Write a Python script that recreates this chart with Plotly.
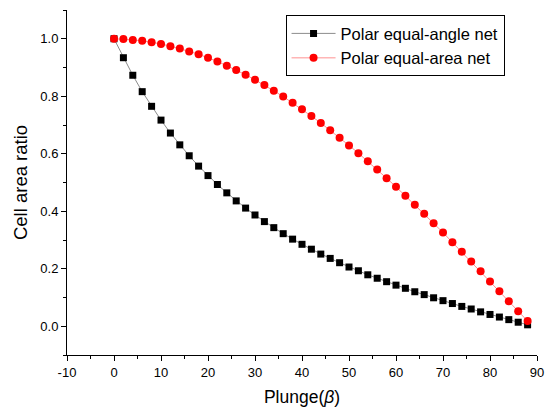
import plotly.graph_objects as go

plunge = [0, 2, 4, 6, 8, 10, 12, 14, 16, 18, 20, 22, 24, 26, 28, 30, 32, 34, 36, 38, 40,
          42, 44, 46, 48, 50, 52, 54, 56, 58, 60, 62, 64, 66, 68, 70, 72, 74, 76, 78, 80,
          82, 84, 86, 88]

equal_angle = [1.000, 0.934, 0.873, 0.816, 0.765, 0.717, 0.672, 0.631, 0.593, 0.557,
               0.524, 0.493, 0.464, 0.436, 0.411, 0.387, 0.364, 0.343, 0.322, 0.303,
               0.285, 0.268, 0.251, 0.236, 0.221, 0.206, 0.193, 0.179, 0.167, 0.155,
               0.143, 0.132, 0.120, 0.110, 0.099, 0.089, 0.079, 0.069, 0.060, 0.050,
               0.041, 0.032, 0.023, 0.014, 0.005]

equal_area = [1.000, 0.999, 0.996, 0.993, 0.988, 0.982, 0.974, 0.966, 0.956, 0.946,
              0.934, 0.921, 0.906, 0.891, 0.875, 0.857, 0.839, 0.819, 0.799, 0.777,
              0.755, 0.731, 0.707, 0.682, 0.656, 0.629, 0.602, 0.574, 0.545, 0.515,
              0.485, 0.454, 0.423, 0.391, 0.358, 0.326, 0.292, 0.259, 0.225, 0.191,
              0.156, 0.122, 0.087, 0.052, 0.018]

series_names = ["Polar equal-angle net", "Polar equal-area net"]
x_ticks = [-10, 0, 10, 20, 30, 40, 50, 60, 70, 80, 90]
x_ticklabels = ["-10", "0", "10", "20", "30", "40", "50", "60", "70", "80", "90"]

fig = go.Figure()
fig.add_trace(go.Scatter(
    x=plunge, y=equal_angle, mode="lines+markers", name=series_names[0],
    line=dict(color="#8c8c8c", width=1),
    marker=dict(symbol="square", size=7, color="black", line=dict(width=0)),
))
fig.add_trace(go.Scatter(
    x=plunge, y=equal_area, mode="lines+markers", name=series_names[1],
    line=dict(color="#ff9090", width=1),
    marker=dict(symbol="circle", size=8, color="#ff0000", line=dict(width=0)),
))

font_family = "Liberation Sans, Arial, sans-serif"

fig.update_layout(
    width=547, height=414,
    margin=dict(l=67, r=10, t=10, b=59),
    paper_bgcolor="white", plot_bgcolor="white",
    font=dict(family=font_family, size=13, color="black"),
    showlegend=True,
    legend=dict(
        x=0.465, y=0.985, xanchor="left", yanchor="top",
        bordercolor="black", borderwidth=1, bgcolor="white",
        font=dict(size=16.5, family=font_family),
        tracegroupgap=0, itemwidth=44,
    ),
    xaxis=dict(
        range=[-10, 90], tickvals=x_ticks, ticktext=x_ticklabels,
        showgrid=False, zeroline=False, automargin=False,
        showline=True, linecolor="black", linewidth=1,
        ticks="outside", ticklen=5, tickcolor="black",
        minor=dict(dtick=5, ticks="outside", ticklen=3, tickcolor="black"),
        tickfont=dict(size=13),
        title=dict(text="Plunge(<i>β</i>)", font=dict(size=17.5), standoff=12),
    ),
    yaxis=dict(
        range=[-0.1, 1.1], dtick=0.2, tick0=0, tickformat=".1f",
        showgrid=False, zeroline=False, automargin=False,
        showline=True, linecolor="black", linewidth=1,
        ticks="outside", ticklen=5, tickcolor="black",
        minor=dict(dtick=0.1, ticks="outside", ticklen=3, tickcolor="black"),
        tickfont=dict(size=13),
        title=dict(text="Cell area ratio", font=dict(size=18.5), standoff=7),
    ),
)

fig.write_html("out.html", config={"displayModeBar": False},
               post_script="document.body.style.margin='0';")
